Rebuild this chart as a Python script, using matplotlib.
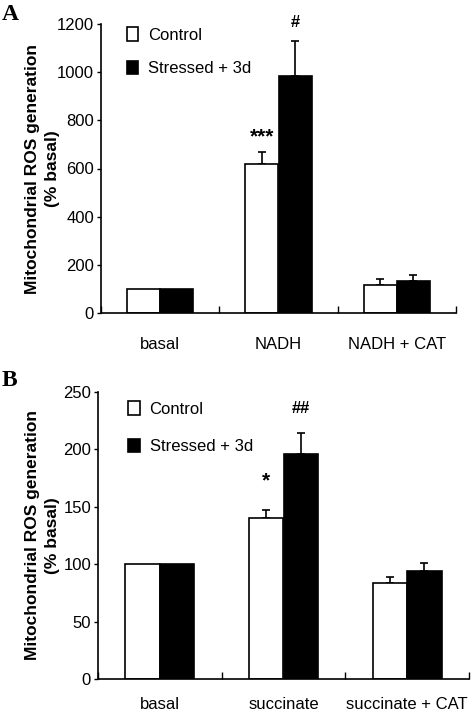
import matplotlib
matplotlib.use("Agg")
import matplotlib.pyplot as plt
from matplotlib.patches import Patch

plt.rcParams['font.family'] = ['Liberation Sans', 'DejaVu Sans']

# Panel A data
cats_a = ["basal", "NADH", "NADH + CAT"]
ctrl_a = [100, 617, 116]
ctrl_a_err = [0, 52, 24]
str_a = [100, 984, 133]
str_a_err = [0, 147, 23]

# Panel B data
cats_b = ["basal", "succinate", "succinate + CAT"]
ctrl_b = [100, 140, 84]
ctrl_b_err = [0, 7, 5]
str_b = [100, 196, 94]
str_b_err = [0, 18, 7]

series_labels = ["Control", "Stressed + 3d"]

fig = plt.figure(figsize=(4.75, 7.15), dpi=100)
ax_a = fig.add_axes([101/475, 1-313/715, 355/475, 289/715])
ax_b = fig.add_axes([98/475, 1-679/715, 371/475, 287/715])

w = 0.28


def draw_panel(ax, cats, ctrl, ctrl_err, stre, stre_err, ymax, ystep, marks,
               leg_anchor, leg_space, xpad):
    n = len(cats)
    centers = [i + 0.5 for i in range(n)]
    xc = [c - w/2 for c in centers]
    xs = [c + w/2 for c in centers]
    ax.bar(xc, ctrl, width=w, color="white", edgecolor="black", linewidth=1.2, zorder=2)
    ax.bar(xs, stre, width=w, color="black", edgecolor="black", linewidth=1.2, zorder=2)
    for x, v, e in list(zip(xc, ctrl, ctrl_err)) + list(zip(xs, stre, stre_err)):
        if e > 0:
            ax.errorbar(x, v, yerr=[[0], [e]], color="black", lw=1.2,
                        capsize=3, capthick=1.2, zorder=1)
    # significance marks: (series, index, text, offset px)
    for s, i, txt, off in marks:
        x = xc[i] if s == 0 else xs[i]
        top = (ctrl[i] + ctrl_err[i]) if s == 0 else (stre[i] + stre_err[i])
        ax.annotate(txt, (x, top), xytext=(0, off), textcoords="offset pixels",
                    ha="center", va="center", fontsize=15 if "*" in txt else 12,
                    fontweight="bold")
    ax.set_xlim(0, n)
    ax.set_ylim(0, ymax)
    ax.set_yticks(range(0, ymax + 1, ystep))
    ax.set_xticks(range(n + 1))
    ax.set_xticklabels([])
    ax.set_xticks(centers, minor=True)
    ax.set_xticklabels(cats, minor=True)
    ax.tick_params(axis="x", which="major", direction="in", length=5, width=1)
    ax.tick_params(axis="x", which="minor", length=0, pad=xpad, labelsize=12)
    ax.tick_params(axis="y", direction="out", length=3, width=1, labelsize=12, pad=2)
    for sp in ["top", "right"]:
        ax.spines[sp].set_visible(False)
    for sp in ["left", "bottom"]:
        ax.spines[sp].set_linewidth(1.2)
    ax.set_ylabel("Mitochondrial ROS generation\n(% basal)", fontsize=12.5,
                  fontweight="bold", linespacing=1.45)
    handles = [Patch(facecolor="white", edgecolor="black", linewidth=1.2),
               Patch(facecolor="black", edgecolor="black", linewidth=1.2)]
    ax.legend(handles, series_labels, loc="upper left", bbox_to_anchor=leg_anchor,
              frameon=False, fontsize=12, handlelength=0.7, handleheight=0.9,
              handletextpad=0.6, labelspacing=leg_space)


draw_panel(ax_a, cats_a, ctrl_a, ctrl_a_err, str_a, str_a_err, 1200, 200,
           [(0, 1, "***", 15), (1, 1, "#", 18)], (0.03, 1.04), 1.05, 17)
draw_panel(ax_b, cats_b, ctrl_b, ctrl_b_err, str_b, str_b_err, 250, 50,
           [(0, 1, "*", 29), (1, 1, "##", 25)], (0.04, 1.02), 1.3, 13)

ax_a.yaxis.set_label_coords(-0.115, 0.5)
ax_b.yaxis.set_label_coords(-0.102, 0.5)

fig.text(2/475, 1-15/715, "A", family=["Liberation Serif"], fontweight="bold",
         fontsize=17, va="center", ha="left")
fig.text(2/475, 1-380/715, "B", family=["Liberation Serif"], fontweight="bold",
         fontsize=17, va="center", ha="left")

fig.savefig("out.png", dpi=100)
